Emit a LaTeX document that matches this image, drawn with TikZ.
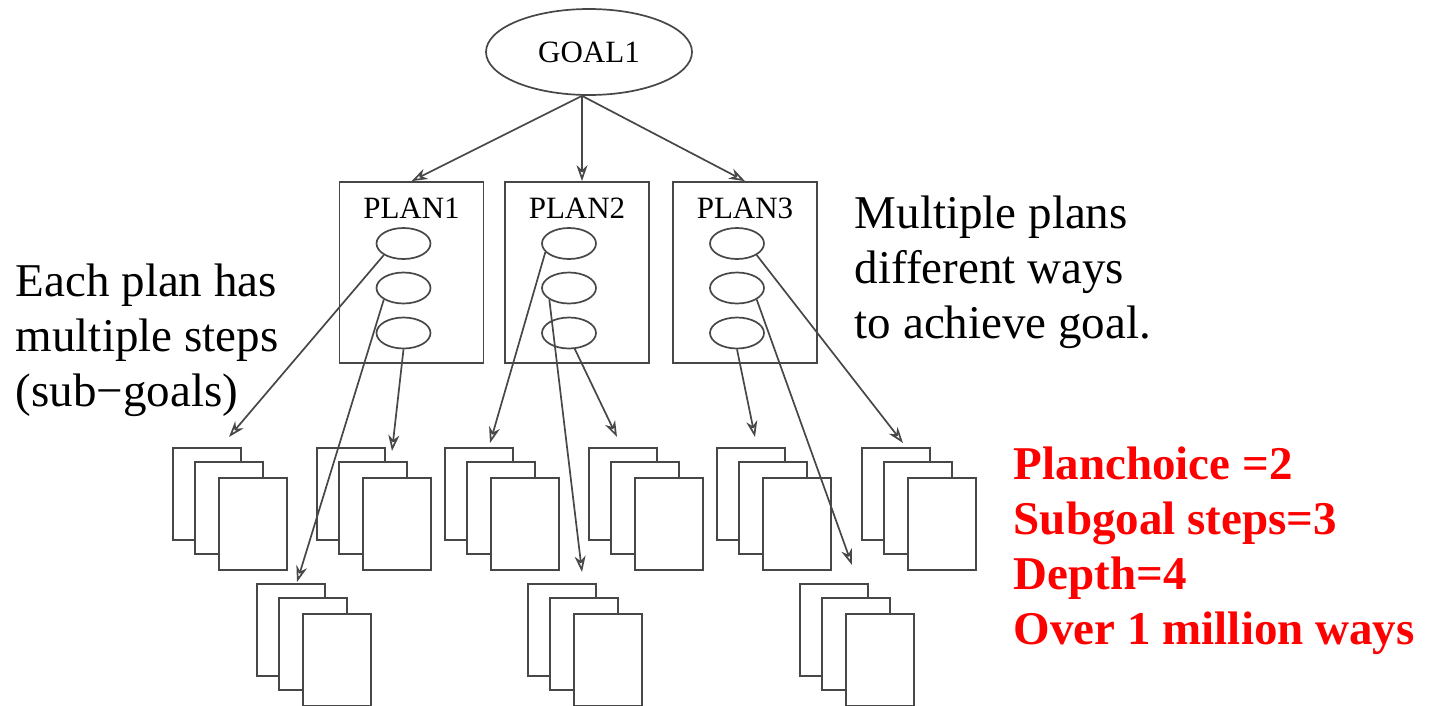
\documentclass[tikz,border=0pt]{standalone}
\usepackage{fontspec}
\setmainfont{Liberation Serif}
\usepackage{tikz}
\usetikzlibrary{shapes,arrows.meta}

\begin{document}
\begin{tikzpicture}[x=1pt,y=-1pt, line width=1.7pt,
  goalnode/.style={ellipse, draw=black!72, minimum width=206pt, minimum height=86pt, inner sep=0pt, font=\fontsize{31}{34}\selectfont},
  planbox/.style={draw=black!72, minimum width=144pt, minimum height=181pt, inner sep=0pt},
  substep/.style={ellipse, draw=black!72, minimum width=54pt, minimum height=31pt, inner sep=0pt},
  doc/.style={draw=black!72, fill=white, minimum width=68pt, minimum height=92pt, inner sep=0pt},
  note/.style={align=left, inner sep=0pt, font=\fontsize{47}{55}\selectfont},
  link/.style={draw=black!72, -{Stealth[open, length=16pt, width=11pt, inset=5pt]}}]
\useasboundingbox (0,0) rectangle (1431,705);

% a stack of three sheets, #2/#3 = top left of the back sheet
\newcommand{\docstack}[3]{
  \node[doc] (#1a) at (#2+34,#3+46) {};
  \node[doc] (#1b) at (#2+56,#3+60) {};
  \node[doc] (#1c) at (#2+80,#3+76) {};
}

% goal and its plans
\node[goalnode] (goal) at (589,52) {GOAL1};
\coordinate (fork) at ([xshift=-7pt]goal.south);
\foreach \i/\x in {1/411.5,2/577,3/745} {
  \node[planbox] (plan\i) at (\x,272.5) {};
  \node[font=\fontsize{31}{34}\selectfont, inner sep=0pt] (pl\i) at ([yshift=-27.5pt]plan\i.north) {PLAN\i};
  \foreach \j/\y in {1/243.5,2/288,3/333}
    \node[substep] (s\i\j) at (\x-8,\y) {};
}
\draw[link] (fork) -- (plan1.north);
\draw[link] (fork) -- (fork |- plan2.north);
\draw[link] (fork) -- (plan3.north);

% sheets: top row, then bottom row
\foreach \n/\x in {d1/173,d2/317,d3/445,d4/589,d5/717,d6/862} {
  \docstack{\n}{\x}{448}
}
\foreach \n/\x in {b1/257,b2/528,b3/800} {
  \docstack{\n}{\x}{584}
}

% where the arrows land
\foreach \n/\x/\y in {t1/229/437,t2/392/451,t3/490/443,t4/617/437,t5/755/437,t6/903/443,
                      u1/297/582,u2/582/572,u3/852/565}
  \coordinate (\n) at (\x,\y);

\draw[link] (s11.south west) -- (t1);
\draw[link] (s12.south west) -- (u1);
\draw[link] (s13.south) -- (t2);
\draw[link] (s21.200) -- (t3);
\draw[link] (s22.south west) -- (u2);
\draw[link] (s23.-70) -- (t4);
\draw[link] (s31.south east) -- (t6);
\draw[link] (s32.south east) -- (u3);
\draw[link] (s33.south) -- (t5);

% texts
\node[note, anchor=north west] (eachplan) at (15,263) {Each plan has\\multiple steps\\(sub−goals)};
\node[note, anchor=north west] (multi) at (854,195) {Multiple plans\\different ways\\to achieve goal.};
\node[note, anchor=north west, text=red, font=\fontsize{47}{55}\selectfont\bfseries] (counts) at (1013,446)
  {Planchoice =2\\Subgoal steps=3\\Depth=4\\Over 1 million ways};
\end{tikzpicture}
\end{document}
